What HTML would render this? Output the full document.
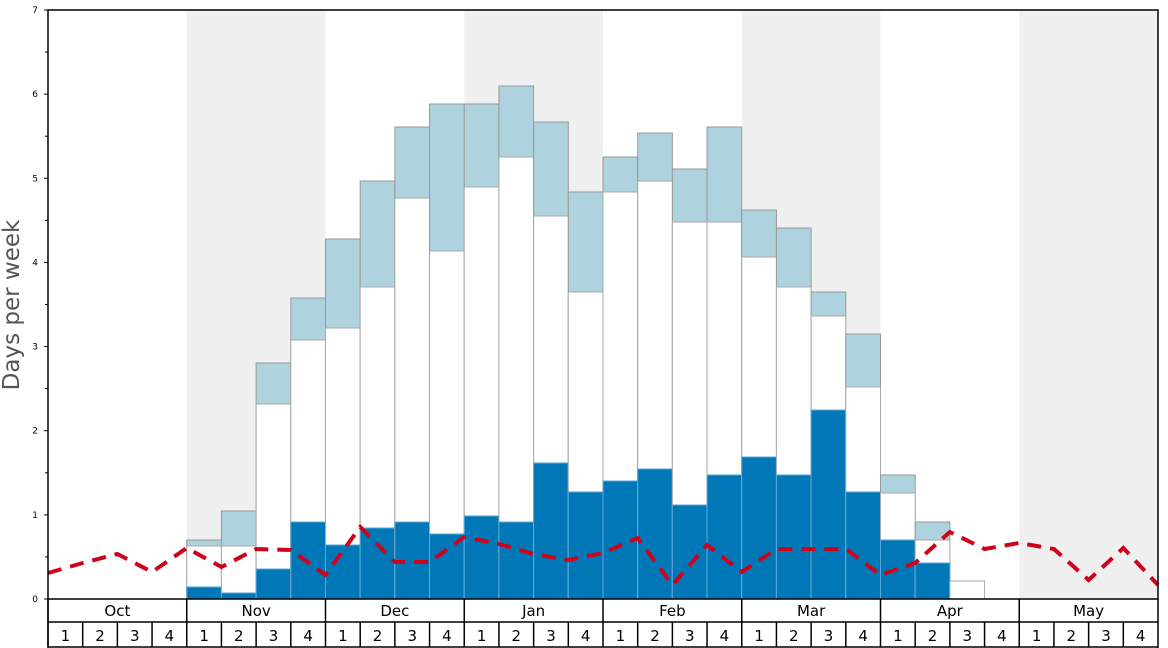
<!DOCTYPE html>
<html><head><meta charset="utf-8"><style>body{margin:0;background:#fff}svg{display:block}</style></head><body>
<svg width="1168" height="648" xmlns="http://www.w3.org/2000/svg" font-family="DejaVu Sans, Liberation Sans, sans-serif">
<rect width="1168" height="648" fill="#fff"/>
<g id="bands" fill="#f0f0f0"></g>
<g id="bars"></g>
<polyline id="red" fill="none" stroke="#d0021b" stroke-width="4" stroke-dasharray="14,9"/>
<rect x="48" y="10" width="1110" height="589" fill="none" stroke="#000" stroke-width="1.5"/>
<g id="axis" font-size="9" fill="#000"></g>
<text transform="translate(19,305) rotate(-90)" text-anchor="middle" font-size="23" fill="#555">Days per week</text>
<g id="bottom" stroke="#000" stroke-width="1.5"></g>
<g id="btext" font-size="15" fill="#000" text-anchor="middle"></g>
<script>
var ns="http://www.w3.org/2000/svg",X0=48,W=1110/32;
function el(p,t,a,txt){var e=document.createElementNS(ns,t);for(var k in a)e.setAttribute(k,a[k]);if(txt!=null)e.textContent=txt;document.getElementById(p).appendChild(e);return e;}
[1,3,5,7].forEach(function(m){el("bands","rect",{x:X0+m*4*W,y:10,width:4*W,height:589});});
var d=[[4,540,546,587],[5,511,546,593],[6,363,404,569],[7,298,340,522],[8,239,328,545],[9,181,287,528],[10,127,198,522],[11,104,251,534],[12,104,187,516],[13,86,157,522],[14,122,216,463],[15,192,292,492],[16,157,192,481],[17,133,181,469],[18,169,222,505],[19,127,222,475],[20,210,257,457],[21,228,287,475],[22,292,316,410],[23,334,387,492],[24,475,493,540],[25,522,540,563]];
d.forEach(function(r){var x=X0+r[0]*W;
el("bars","rect",{x:x,y:r[1],width:W,height:599-r[1],fill:"#aed3df",stroke:"#999","stroke-width":1});
el("bars","rect",{x:x,y:r[2],width:W,height:599-r[2],fill:"#fefefe",stroke:"#aaa","stroke-width":1});
el("bars","rect",{x:x,y:r[3],width:W,height:599-r[3],fill:"#0077b6",stroke:"#5aa7d6","stroke-width":1});});
el("bars","rect",{x:X0+26*W,y:581,width:W,height:18,fill:"#fff",stroke:"#aaa","stroke-width":1});
var ry=[573,563,554,572,548,567,549,550,575,527,562,562,537,544,554,560,553,538,585,545,572,549,549,549,575,563,532,549,543,549,580,548,585];
document.getElementById("red").setAttribute("points",ry.map(function(y,k){return (X0+k*W)+","+y}).join(" "));
for(var i=0;i<=7;i++){var y=599-i*589/7;el("axis","text",{x:38,y:y+3,"text-anchor":"end"},i);el("axis","line",{x1:44,x2:48,y1:y,y2:y,stroke:"#000"});
if(i<7)el("axis","line",{x1:45,x2:48,y1:y-589/14,y2:y-589/14,stroke:"#000"});}
el("bottom","line",{x1:48,x2:1158,y1:622,y2:622});el("bottom","line",{x1:48,x2:1158,y1:647,y2:647});
el("bottom","line",{x1:48,x2:48,y1:599,y2:648});el("bottom","line",{x1:1158,x2:1158,y1:599,y2:648});
var ms=["Oct","Nov","Dec","Jan","Feb","Mar","Apr","May"];
for(var k=0;k<32;k++){var x=X0+k*W;el("bottom","line",{x1:x,x2:x,y1:k%4==0?599:622,y2:647});el("btext","text",{x:x+W/2,y:641},(k%4)+1);}
ms.forEach(function(m,j){el("btext","text",{x:X0+(j*4+2)*W,y:616},m);});
</script>
</svg>
</body></html>
